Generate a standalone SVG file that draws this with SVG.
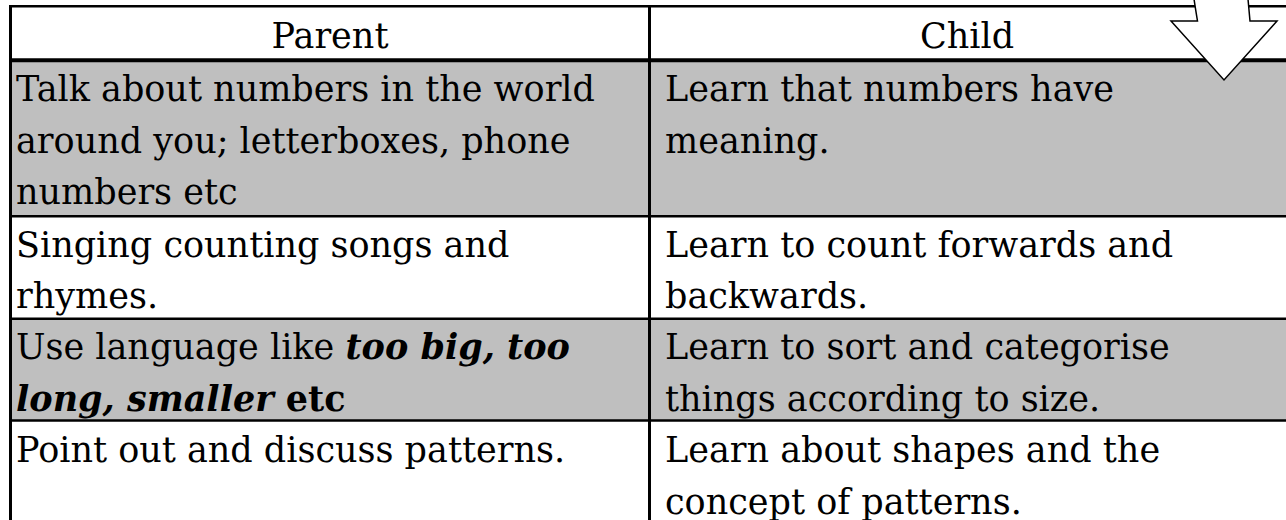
<svg xmlns="http://www.w3.org/2000/svg" width="1286" height="520" viewBox="0 0 1286 520">
<style>
  .t { font-family: "DejaVu Serif", "Liberation Serif", serif; font-size: 35px; fill: #000; }
  .h { text-anchor: middle; }
  .bi { font-weight: bold; font-style: italic; }
  .b { font-weight: bold; }
  .shade { fill: #bfbfbf; }
  .rule { stroke: #000; stroke-width: 2.5; fill: none; }
  .thick { stroke: #000; stroke-width: 4; fill: none; }
</style>
<rect width="1286" height="520" fill="#fff"/>
<g id="shading">
  <rect class="shade" x="10" y="60" width="1276" height="156.3"/>
  <rect class="shade" x="10" y="318.7" width="1276" height="101.8"/>
</g>
<g id="header">
  <text class="t h" x="330" y="48">Parent</text>
  <text class="t h" x="967" y="48">Child</text>
</g>
<g id="row1">
  <text class="t" x="16" y="101">Talk about numbers in the world</text>
  <text class="t" x="16" y="152.5">around you; letterboxes, phone</text>
  <text class="t" x="16" y="204">numbers etc</text>
  <text class="t" x="665" y="101">Learn that numbers have</text>
  <text class="t" x="665" y="152.5">meaning.</text>
</g>
<g id="row2">
  <text class="t" x="16" y="256.5">Singing counting songs and</text>
  <text class="t" x="16" y="308">rhymes.</text>
  <text class="t" x="665" y="256.5">Learn to count forwards and</text>
  <text class="t" x="665" y="308">backwards.</text>
</g>
<g id="row3">
  <text class="t" x="16" y="359">Use language like <tspan class="bi">too big, too</tspan></text>
  <text class="t" x="16" y="410.5"><tspan class="bi">long, smaller</tspan><tspan class="b"> etc</tspan></text>
  <text class="t" x="665" y="359">Learn to sort and categorise</text>
  <text class="t" x="665" y="410.5">things according to size.</text>
</g>
<g id="row4">
  <text class="t" x="16" y="462">Point out and discuss patterns.</text>
  <text class="t" x="665" y="462">Learn about shapes and the</text>
  <text class="t" x="665" y="513.5">concept of patterns.</text>
</g>
<g id="grid">
  <line class="rule" x1="9.25" y1="6.2" x2="1286" y2="6.2"/>
  <line class="thick" x1="9.25" y1="60.3" x2="1286" y2="60.3"/>
  <line class="rule" x1="10" y1="216.3" x2="1286" y2="216.3"/>
  <line class="rule" x1="10" y1="318.7" x2="1286" y2="318.7"/>
  <line class="rule" x1="10" y1="420.5" x2="1286" y2="420.5"/>
  <line class="rule" x1="10.5" y1="5" x2="10.5" y2="520" style="stroke-width:3"/>
  <line class="rule" x1="649.5" y1="5" x2="649.5" y2="520" style="stroke-width:3"/>
</g>
<g id="arrow">
  <path d="M1194,-1 Q1196,12 1197.5,21 L1171,21 L1224,80 L1277,21 L1250,21 Q1249,10 1248,-1 Z" fill="#fff" stroke="#000" stroke-width="1.5" stroke-linejoin="miter"/>
</g>
</svg>
